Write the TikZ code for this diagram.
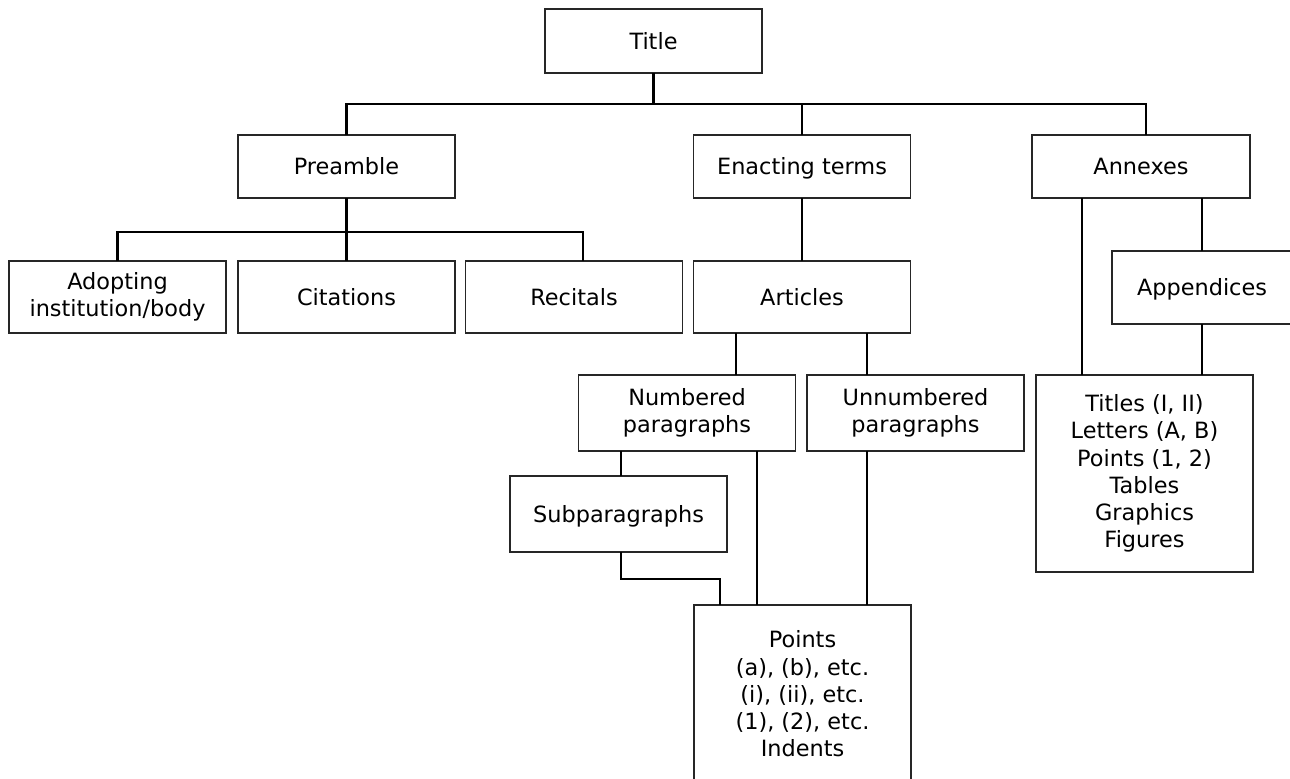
\documentclass[tikz,border=0pt]{standalone}
\usepackage{fontspec}
\setmainfont{DejaVu Sans}
\newcommand\vcstrut{\rule[-0.25em]{0pt}{1.23em}}
\begin{document}
\begin{tikzpicture}[x=0.5pt,y=-0.5pt,
  box/.style={draw=black!85, line width=0.8pt, inner sep=0pt, outer sep=0pt,
    align=center, font=\fontsize{11.2}{13.6}\selectfont, minimum width=108.5pt},
  conn/.style={draw=black, line width=1.2pt},
  thinconn/.style={draw=black, line width=0.6pt}]
\useasboundingbox (0,0) rectangle (1290,778);
% nodes
\node[box, minimum height=32pt] (title) at (653.5,41) {\vcstrut Title};
\node[box, minimum height=31.5pt] (pre) at (346.5,166.5) {\vcstrut Preamble};
\node[box, minimum height=31.5pt] (ena) at (802,166.5) {\vcstrut Enacting terms};
\node[box, minimum height=31.5pt, minimum width=109pt] (ann) at (1141,166.5) {\vcstrut Annexes};
\node[box, minimum height=36pt] (ado) at (117.5,297) {Adopting\\institution/body};
\node[box, minimum height=36pt] (cit) at (346.5,297) {\vcstrut Citations};
\node[box, minimum height=36pt] (rec) at (574,297) {\vcstrut Recitals};
\node[box, minimum height=36pt] (art) at (802,297) {\vcstrut Articles};
\node[box, minimum height=36.5pt, minimum width=90pt] (app) at (1202,287.5) {\vcstrut Appendices};
\node[box, minimum height=38pt] (num) at (687,413) {Numbered\\paragraphs};
\node[box, minimum height=38pt] (unn) at (915.5,413) {Unnumbered\\paragraphs};
\node[box, minimum height=38pt] (sub) at (618.5,514) {\vcstrut Subparagraphs};
\node[box, minimum height=89pt] (pts) at (802.5,694) {Points\\(a), (b), etc.\\(i), (ii), etc.\\(1), (2), etc.\\Indents};
\node[box, minimum height=98.5pt] (tit) at (1144.5,473.5) {Titles (I, II)\\Letters (A, B)\\Points (1, 2)\\Tables\\Graphics\\Figures};
% helper coordinates
\coordinate (b1) at (0,104);
\coordinate (b2) at (0,232);
\coordinate (xa) at (1146,0);
\coordinate (xr) at (583,0);
\coordinate (s1) at (736,0);
\coordinate (s2) at (867,0);
\coordinate (s3) at (621,0);
\coordinate (s4) at (757,0);
\coordinate (s5) at (720,0);
\coordinate (s6) at (1082,0);
\coordinate (s7) at (1202,0);
\coordinate (y1) at (0,579);
% connectors
\draw[conn] (title.south) -- (title.south |- b1);
\draw[conn] (pre.north) -- (pre.north |- b1) -- (xa |- b1) -- (xa |- ann.north);
\draw[conn] (ena.north) -- (ena.north |- b1);
\draw[conn] (pre.south) -- (cit.north);
\draw[conn] (ado.north) -- (ado.north |- b2) -- (xr |- b2) -- (xr |- rec.north);
\draw[conn] (ena.south) -- (art.north);
\draw[conn] (s1 |- art.south) -- (s1 |- num.north);
\draw[conn] (s2 |- art.south) -- (s2 |- unn.north);
\draw[thinconn] (s3 |- num.south) -- (s3 |- sub.north);
\draw[conn] (s3 |- sub.south) -- (s3 |- y1) -- (s5 |- y1) -- (s5 |- pts.north);
\draw[conn] (s4 |- num.south) -- (s4 |- pts.north);
\draw[conn] (s2 |- unn.south) -- (s2 |- pts.north);
\draw[conn] (s6 |- ann.south) -- (s6 |- tit.north);
\draw[conn] (s7 |- ann.south) -- (s7 |- app.north);
\draw[conn] (s7 |- app.south) -- (s7 |- tit.north);
\end{tikzpicture}
\end{document}
